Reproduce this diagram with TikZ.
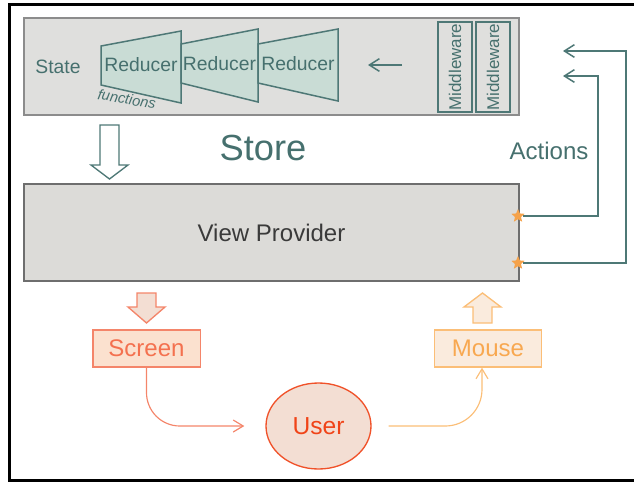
\documentclass[tikz,border=0pt]{standalone}
\usepackage{fontspec}
\setmainfont{Liberation Sans}
\usetikzlibrary{positioning,shapes.geometric,arrows.meta}

\definecolor{tealline}{HTML}{4E7876}
\definecolor{tealtext}{HTML}{46706E}
\definecolor{reducerfill}{HTML}{C9DCD5}
\definecolor{storefill}{HTML}{DFDFDD}
\definecolor{storeedge}{HTML}{8C8C8C}
\definecolor{vpfill}{HTML}{DCDBD8}
\definecolor{vpedge}{HTML}{6E6E6E}
\definecolor{vptext}{HTML}{3A3A3A}
\definecolor{screenfill}{HTML}{FBE1CF}
\definecolor{screenedge}{HTML}{F4856A}
\definecolor{screentext}{HTML}{F4714F}
\definecolor{userfill}{HTML}{F3DED3}
\definecolor{useredge}{HTML}{F0522A}
\definecolor{usertext}{HTML}{F04418}
\definecolor{mousefill}{HTML}{FAEBDD}
\definecolor{mouseedge}{HTML}{FBBE77}
\definecolor{mousetext}{HTML}{F8A850}
\definecolor{starcol}{HTML}{F5A24A}

\tikzset{
  graybox/.style={draw=storeedge, fill=storefill, line width=0.4mm, inner sep=0pt},
  reducer/.style={draw=tealline, fill=reducerfill, line width=0.45mm},
  redtext/.style={text=tealtext, inner sep=0pt, font=\fontsize{16.5}{19}\selectfont},
  mwbox/.style={draw=tealline, fill=storefill, line width=0.4mm, inner sep=0pt,
    rotate=90, minimum width=27mm, minimum height=10.2mm,
    text=tealtext, font=\fontsize{14.5}{17}\selectfont},
  actline/.style={draw=tealline, line width=0.45mm, -{Straight Barb[length=3mm,width=3.8mm]}},
  starmark/.style={star, star points=5, star point ratio=2.2, fill=starcol,
    inner sep=0pt, minimum size=4.2mm},
  colbox/.style={draw=#1edge, fill=#1fill, text=#1text, line width=0.4mm, inner sep=0pt,
    minimum width=32.2mm, minimum height=11.1mm, font=\fontsize{20.5}{24}\selectfont},
  curvearrow/.style={draw=#1, line width=0.35mm, -{Straight Barb[length=3mm,width=3.6mm]}}
}

\begin{document}
\begin{tikzpicture}[x=0.3mm,y=-0.3mm]
\useasboundingbox (0,0) rectangle (634,482);
% frame, open on the right
\draw[line width=0.8mm] (634,4.5) -- (9.5,4.5) -- (9.5,480.5) -- (634,480.5);

% store
\node[graybox, minimum width=148.5mm, minimum height=29.1mm] (store) at (271.5,66.5) {};
\node[text=tealtext, font=\fontsize{16.5}{19}\selectfont] (state) at (58,67) {State};
\draw[reducer] (101,46) -- (181,31) -- (181,103) -- (101,85) -- cycle;
\draw[reducer] (181,44) -- (258,29) -- (258,102) -- (181,83) -- cycle;
\draw[reducer] (258,44) -- (338,29) -- (338,101) -- (258,83) -- cycle;
\node[redtext] (red1) at (141,65) {Reducer};
\node[redtext] (red2) at (219.5,64) {Reducer};
\node[redtext] (red3) at (298,64) {Reducer};
\node[text=tealtext, rotate=-10, inner sep=0pt, font=\itshape\fontsize{12.5}{14}\selectfont] (fun) at (127,99) {functions};
\node[mwbox] (mw1) at (455,67) {Middleware};
\node[mwbox] (mw2) at (493,67) {Middleware};
\coordinate (mwout) at (402,65);
\coordinate (redin) at (368,65);
\draw[actline] (mwout) -- (redin);
\node[text=tealtext, font=\fontsize{31}{36}\selectfont] (storelbl) at (263,148) {Store};

% store down to view
\draw[draw=tealline, fill=white, line width=0.4mm] (100,125) -- (119,125) -- (119,165) -- (128,165) -- (109.5,179) -- (91,165) -- (100,165) -- cycle;

% view provider
\node[draw=vpedge, fill=vpfill, line width=0.45mm, inner sep=0pt, minimum width=148.5mm, minimum height=29.1mm,
  text=vptext, font=\fontsize{20.5}{24}\selectfont] (vp) at (271.5,232.5) {View Provider};

% actions
\node[starmark] (st1) at (518,216) {};
\node[starmark] (st2) at (518,263) {};
\coordinate (in1) at (563,76);
\coordinate (in2) at (563,51);
\draw[actline] (st1) -- ++(80,0) |- (in1);
\draw[actline] (st2) -- ++(108,0) |- (in2);
\node[text=tealtext, font=\fontsize{20.5}{24}\selectfont] (act) at (549,151) {Actions};

% screen, user, mouse
\draw[draw=screenedge, fill=userfill, line width=0.4mm] (137,293) -- (156,293) -- (156,307) -- (165,307) -- (146.5,323) -- (128,307) -- (137,307) -- cycle;
\node[colbox=screen] (screen) at (146.5,348.5) {Screen};
\node[colbox=mouse] (mouse) at (488,348.5) {Mouse};
\draw[draw=mouseedge, fill=mousefill, line width=0.4mm] (482.5,293) -- (501,307) -- (492,307) -- (492,323) -- (473,323) -- (473,307) -- (464,307) -- cycle;
\node[ellipse, draw=useredge, fill=userfill, text=usertext, line width=0.4mm, inner sep=0pt,
  minimum width=31.5mm, minimum height=25.8mm, font=\fontsize{21}{25}\selectfont] (user) at (318.5,426) {User};
\draw[curvearrow={screenedge}, rounded corners=10mm] (screen.south) |- ([xshift=-6.3mm]user.west);
\draw[curvearrow={mouseedge}, rounded corners=11mm] ([xshift=5.1mm]user.east) -| ([xshift=-1.8mm]mouse.south);
\end{tikzpicture}
\end{document}
